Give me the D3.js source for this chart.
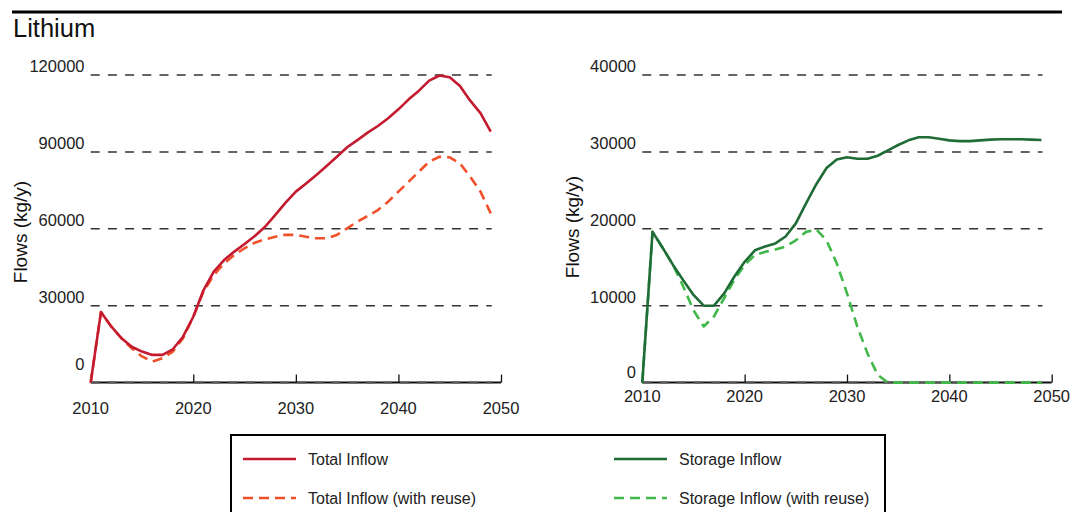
<!DOCTYPE html>
<html>
<head>
<meta charset="utf-8">
<script src="https://cdn.jsdelivr.net/npm/d3@7"></script>
<style>
  html, body { margin: 0; padding: 0; background: #fff; }
  svg { display: block; font-family: "Liberation Sans", Arial, Helvetica, sans-serif; }
</style>
</head>
<body>
<svg id="chart" width="1073" height="512"></svg>
<script>
const years = d3.range(2010, 2050); // 2010..2049

const totalInflow = [0, 27500, 21900, 17300, 14000, 12100, 10800, 10800, 13000, 17900,
  25700, 36100, 43300, 47800, 51100, 54100, 57200, 60800, 65400, 70200,
  74500, 77700, 81000, 84500, 88100, 91800, 94600, 97500, 100100, 103100,
  106600, 110500, 113900, 117800, 119800, 119100, 115700, 110000, 105100, 97900];

const totalInflowReuse = [0, 27500, 21900, 17300, 13400, 10200, 8200, 9500, 12100, 17300,
  25700, 35500, 42000, 46500, 49800, 52400, 54600, 55900, 56900, 57700,
  57600, 56900, 56300, 56300, 57600, 60200, 62800, 65000, 67300, 70600,
  74500, 78400, 82300, 86200, 88100, 87900, 85500, 80300, 74500, 66000];

const storageInflow = [0, 19600, 17500, 15300, 13300, 11400, 10000, 10000, 11600, 13800,
  15700, 17200, 17700, 18100, 19000, 20700, 23300, 25800, 27900, 29000,
  29300, 29100, 29100, 29500, 30200, 30900, 31500, 31900, 31900, 31700,
  31500, 31400, 31400, 31500, 31600, 31650, 31650, 31650, 31600, 31550];

const storageInflowReuse = [0, 19600, 17500, 15300, 12500, 9400, 7300, 8600, 11000, 13400,
  15300, 16600, 17000, 17300, 17700, 18500, 19600, 19900, 18500, 15500,
  11600, 7300, 3800, 1000, 0, 0, 0, 0, 0, 0,
  0, 0, 0, 0, 0, 0, 0, 0, 0, 0];

const leftTicks = [0, 30000, 60000, 90000, 120000];
const rightTicks = [0, 10000, 20000, 30000, 40000];
const xTicks = [2010, 2020, 2030, 2040, 2050];

const title = "Lithium";
const yLabel = "Flows (kg/y)";
const legendItems = [
  {label: "Total Inflow", color: "#c41a30", dash: null, col: 0, row: 0},
  {label: "Total Inflow (with reuse)", color: "#f0502a", dash: "10,6", col: 0, row: 1},
  {label: "Storage Inflow", color: "#1f6c37", dash: null, col: 1, row: 0},
  {label: "Storage Inflow (with reuse)", color: "#40b84a", dash: "10,6", col: 1, row: 1}
];

const svg = d3.select("#chart");
const textColor = "#222";

// Header
svg.append("line").attr("x1", 12).attr("x2", 1062).attr("y1", 12).attr("y2", 12)
  .attr("stroke", "#000").attr("stroke-width", 3);
svg.append("text").attr("x", 13).attr("y", 37).attr("font-size", 25.5).attr("fill", "#111").text(title);

function drawPanel(opt) {
  const x = d3.scaleLinear().domain([2010, 2050]).range(opt.xRange);
  const y = d3.scaleLinear().domain([0, opt.yMax]).range([382.6, 75]);
  const g = svg.append("g");

  // gridlines
  g.selectAll(".grid").data(opt.yTicks.filter(d => d > 0)).join("line")
    .attr("x1", x(2010)).attr("x2", x(2049) + 1)
    .attr("y1", d => y(d)).attr("y2", d => y(d))
    .attr("stroke", "#333").attr("stroke-width", 1.5).attr("stroke-dasharray", "9,8.2");

  // y tick labels
  g.selectAll(".ylab").data(opt.yTicks).join("text")
    .attr("x", opt.yLabelX).attr("y", d => y(d) - (d === 0 ? opt.zeroOffset : 9))
    .attr("text-anchor", "end").attr("dominant-baseline", "central")
    .attr("font-size", 16.5).attr("fill", textColor).text(d => d);

  // x axis
  const axis = g.append("g").attr("transform", `translate(0,${y(0)})`)
    .call(d3.axisBottom(x).tickValues(xTicks).tickSize(-8).tickFormat(""));
  axis.select(".domain").attr("d", `M${x(2010)},0H${x(2050)}`).attr("stroke", "#111").attr("stroke-width", 2);
  axis.selectAll(".tick line").attr("stroke", "#111").attr("stroke-width", 1.3);
  g.append("line").attr("x1", x(2010)).attr("x2", x(2049) + 1).attr("y1", y(0)).attr("y2", y(0))
    .attr("stroke", "#555").attr("stroke-width", 2).attr("stroke-dasharray", "9,8.2");

  g.selectAll(".xlab").data(xTicks).join("text")
    .attr("x", d => x(d)).attr("y", y(0) + opt.xLabelOffset)
    .attr("text-anchor", "middle").attr("dominant-baseline", "central")
    .attr("font-size", 16.5).attr("fill", textColor).text(d => d);

  // y axis label
  g.append("text").attr("transform", `translate(${opt.titleX},${opt.titleY}) rotate(-90)`)
    .attr("text-anchor", "middle").attr("dominant-baseline", "central")
    .attr("font-size", 19).attr("fill", "#111").text(yLabel);

  const line = d3.line().x((d, i) => x(years[i])).y(d => y(d)).curve(d3.curveLinear);
  opt.series.forEach(s => {
    g.append("path").datum(s.values).attr("d", line)
      .attr("fill", "none").attr("stroke", s.color).attr("stroke-width", 2.6)
      .attr("stroke-linejoin", "round")
      .attr("stroke-dasharray", s.dash);
  });
}

drawPanel({
  xRange: [90.7, 501], yMax: 120000, yTicks: leftTicks, yLabelX: 84.5, zeroOffset: 19,
  xLabelOffset: 25.5, titleX: 20, titleY: 232,
  series: [
    {values: totalInflowReuse, color: legendItems[1].color, dash: legendItems[1].dash},
    {values: totalInflow, color: legendItems[0].color, dash: null}
  ]
});

drawPanel({
  xRange: [642.3, 1051.7], yMax: 40000, yTicks: rightTicks, yLabelX: 636, zeroOffset: 11,
  xLabelOffset: 13.5, titleX: 572, titleY: 227,
  series: [
    {values: storageInflowReuse, color: legendItems[3].color, dash: legendItems[3].dash},
    {values: storageInflow, color: legendItems[2].color, dash: null}
  ]
});

// Legend
const lg = svg.append("g");
lg.append("rect").attr("x", 231).attr("y", 435).attr("width", 654).attr("height", 100)
  .attr("fill", "#fff").attr("stroke", "#000").attr("stroke-width", 2);
const colX = [243, 614];
const rowY = [459, 498];
legendItems.forEach(it => {
  const lx = colX[it.col], ly = rowY[it.row];
  lg.append("line").attr("x1", lx).attr("x2", lx + 53).attr("y1", ly).attr("y2", ly)
    .attr("stroke", it.color).attr("stroke-width", 2.6).attr("stroke-dasharray", it.dash);
  lg.append("text").attr("x", lx + 65).attr("y", ly).attr("dominant-baseline", "central")
    .attr("font-size", 16).attr("fill", "#222").text(it.label);
});
</script>
</body>
</html>
